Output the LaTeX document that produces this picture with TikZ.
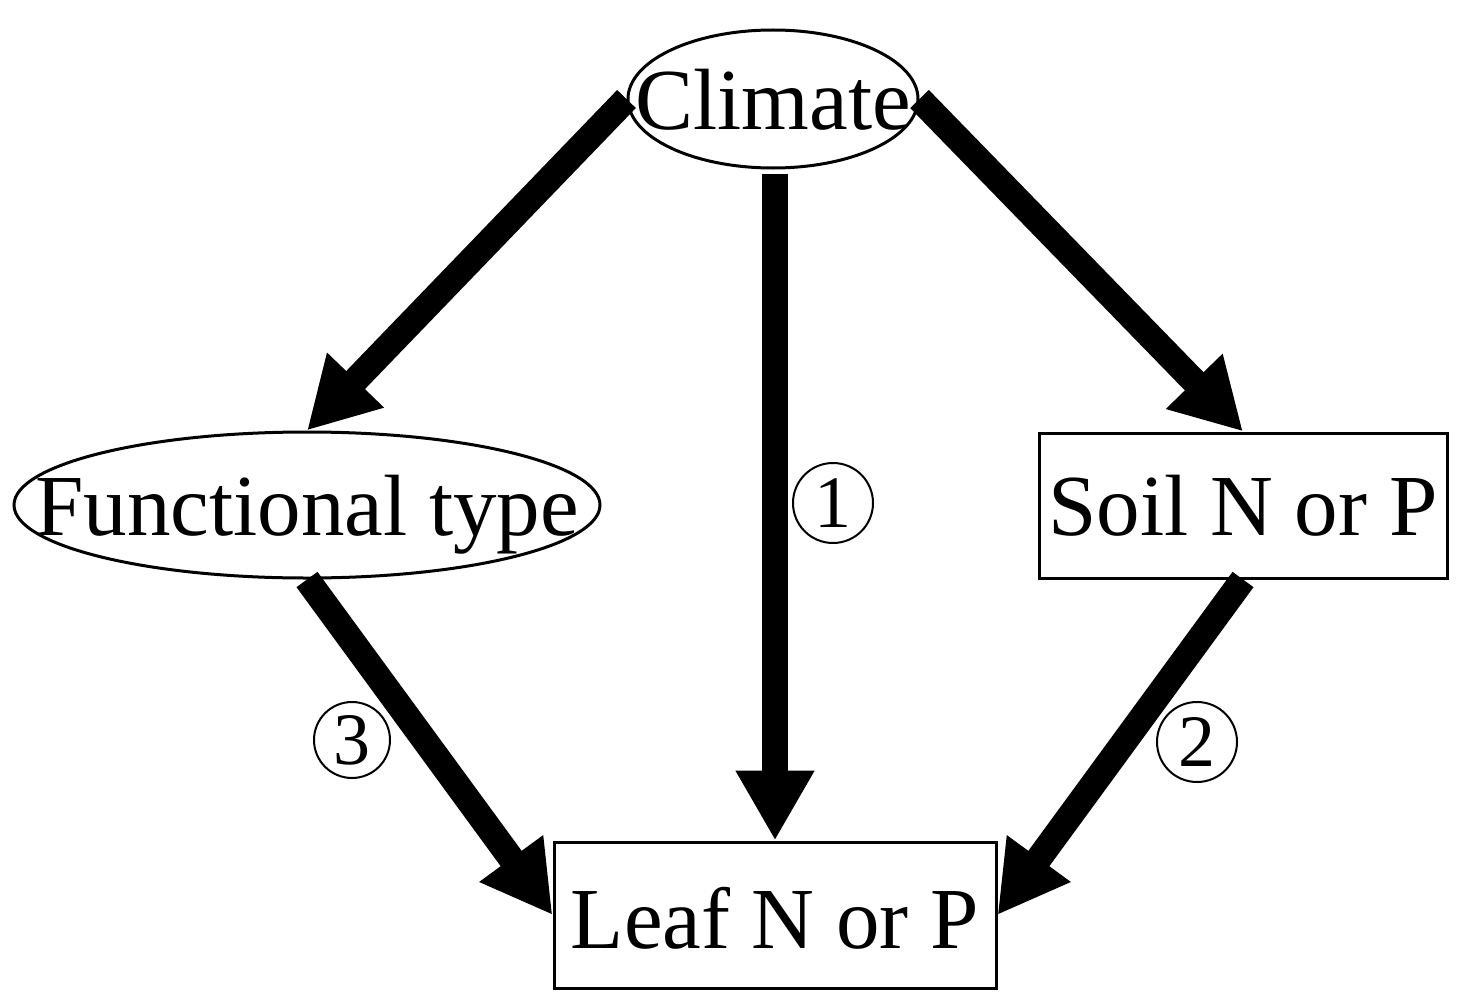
\documentclass[tikz,border=0pt]{standalone}
\usepackage{fontspec}
\setmainfont{Liberation Serif}
\usetikzlibrary{shapes.geometric,arrows.meta}
\begin{document}
\begin{tikzpicture}[x=1pt,y=-1pt,
  lbl/.style={font=\fontsize{87}{90}\selectfont},
  ell/.style={ellipse,draw,line width=3pt,inner sep=0pt,lbl},
  boxn/.style={rectangle,draw,line width=3pt,inner sep=0pt,lbl},
  conn/.style={line width=26pt,line cap=butt,-{Triangle[length=70pt,width=74pt]}},
  circnum/.style={circle,draw,line width=2pt,inner sep=0pt,minimum size=80pt,font=\fontsize{74}{76}\selectfont}
]
\useasboundingbox (0,0) rectangle (1469,1006);
\newcommand{\placetext}[2]{\makebox[0pt]{\raisebox{-#1pt}[0pt][0pt]{#2}}}
\node[ell,minimum width=290pt,minimum height=138pt] (climate) at (773,99) {\placetext{31}{Climate}};
\node[ell,minimum width=586pt,minimum height=146pt] (func) at (307,505) {\placetext{30}{Functional type}};
\node[boxn,minimum width=408pt,minimum height=145pt] (soil) at (1243,505.5) {\placetext{30}{Soil N or P}};
\node[boxn,minimum width=442pt,minimum height=146pt] (leaf) at (775,915) {\placetext{33}{Leaf N or P}};
\draw[conn] (climate.west) -- (func.north);
\draw[conn] (climate.east) -- (soil.north);
\draw[conn,shorten <=4pt] (climate.south -| leaf.north) -- (leaf.north);
\draw[conn] (func.south) -- (leaf.west);
\draw[conn] (soil.south) -- (leaf.east);
\node[circnum] (c1) at (833,503) {1};
\node[circnum] (c2) at (1197,742) {2};
\node[circnum,minimum size=76pt] (c3) at (352,740) {3};
\end{tikzpicture}
\end{document}
